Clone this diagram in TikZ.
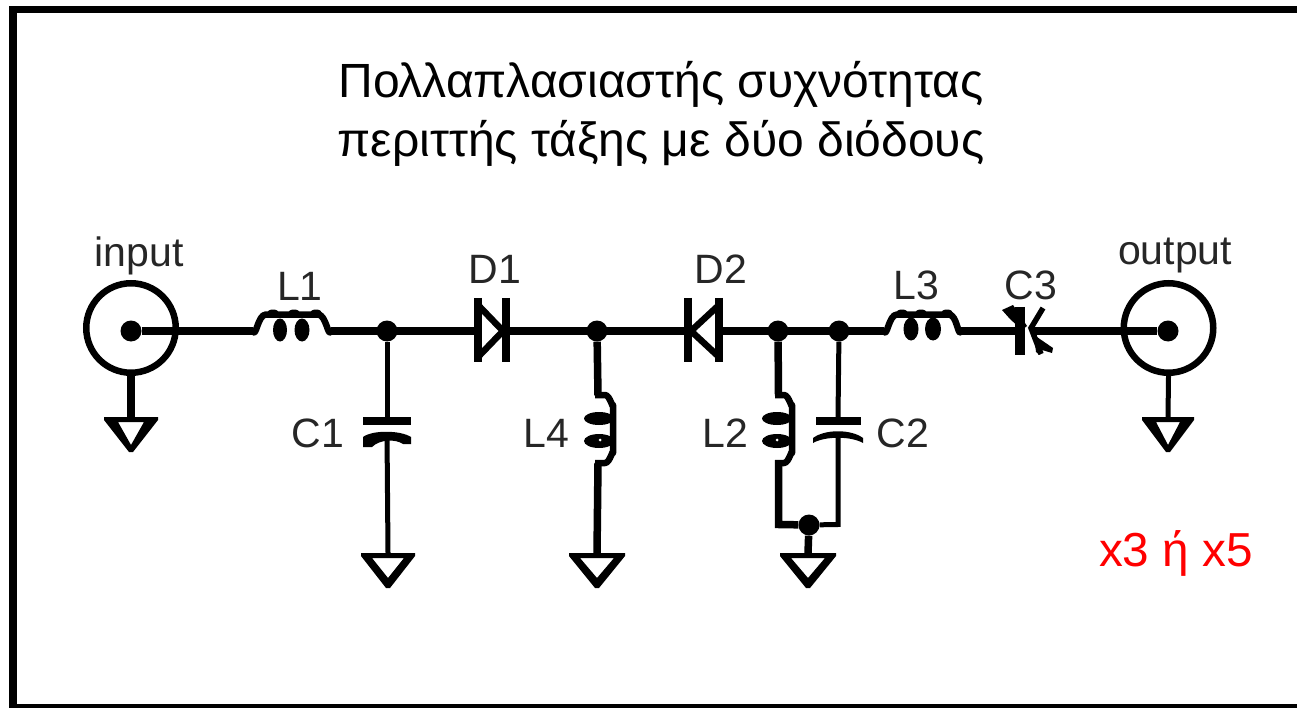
\documentclass[tikz,border=0pt]{standalone}
\usepackage{fontspec}
\setmainfont{Liberation Sans}
\begin{document}
\begin{tikzpicture}[x=1pt,y=-1pt,
  wire/.style={line width=7.5pt,line cap=butt},
  thin wire/.style={line width=5pt},
  coil/.style={line width=6.5pt,line join=round},
  plate/.style={line width=8pt},
  lbl/.style={font=\fontsize{41}{41}\selectfont,inner sep=0pt,text=black!85},
  title/.style={font=\fontsize{48}{48}\selectfont,inner sep=0pt},
  dot/.style={circle,fill=black,inner sep=0pt,minimum size=21pt},
  port/.style={circle,draw,line width=6.5pt,minimum size=89.5pt,inner sep=0pt}]
\useasboundingbox (0,0) rectangle (1297,708);
\fill[white] (0,0) rectangle (1297,708);
% frame
\fill[black] (9,6) rectangle (1297,13.5);
\fill[black] (9,6) rectangle (17,708);
\fill[black] (9,704) rectangle (1297,708);
% title
\node[title] (t1) at (661,84) {Πολλαπλασιαστής συχνότητας};
\node[title] (t2) at (661,143) {περιττής τάξης με δύο διόδους};
\node[font=\fontsize{47.7}{48}\selectfont,inner sep=0pt,text=red] (x35) at (1176,553) {x3 ή x5};
% ports
\node[port] (cin) at (131,328) {};
\node[port] (cout) at (1168.5,328) {};
% junctions
\node[dot] (in) at (131,331) {};
\node[dot] (out) at (1168,331) {};
\node[dot] (j1) at (387,331) {};
\node[dot] (j2) at (597,331) {};
\node[dot] (j3) at (778,331) {};
\node[dot] (j4) at (839,331) {};
\node[dot] (j5) at (809,525) {};
% grounds (outer triangle minus inner triangle; apex at bottom)
\foreach \n/\x/\y/\w/\t in {g0/131/417/27/14,g1/388/553/27/11,g2/597/553/28/11,g3/808/553/28/11,g4/1168/417/26/14}{
  \coordinate (\n) at (\x,\y);
  \fill[even odd rule] (\x-\w,\y) -- (\x+\w,\y) -- (\x+\w,\y+3) -- (\x+2,\y+35) -- (\x-2,\y+35) -- (\x-\w,\y+3) -- cycle
     (\x-\w+\t,\y+5) -- (\x+\w-\t,\y+5) -- (\x,\y+\t+14) -- cycle;
}
% top wire: anchors
\coordinate (l1a) at (253,331);
\coordinate (l1b) at (331,331);
\coordinate (d1a) at (477,331);
\coordinate (d1b) at (505,331);
\coordinate (d2a) at (688,331);
\coordinate (d2b) at (719,331);
\coordinate (l3a) at (884,331);
\coordinate (l3b) at (961,331);
\coordinate (c3a) at (1020,331);
\coordinate (c3b) at (1031,331);
\draw[wire] (in) -- (l1a);
\draw[wire] (l1b) -- (d1a);
\draw[wire] (d1b) -- (d2a);
\draw[wire] (d2b) -- (l3a);
\draw[wire] (l3b) -- (c3a);
\draw[wire] (c3b) -- (out);
% L1
\draw[coil] (l1a) to[out=-70,in=180] (266,314.5) -- (318,314.5) to[out=0,in=-110] (l1b);
\foreach \x in {273,294,316}{\fill (\x,313) ellipse (6pt and 3.5pt);}
\fill (280,330) ellipse (7pt and 11.5pt);
\fill (302,330) ellipse (7.5pt and 11.5pt);
% L3
\draw[coil] (l3a) to[out=-70,in=180] (897,314.5) -- (949,314.5) to[out=0,in=-110] (l3b);
\foreach \x in {902,921,947}{\fill (\x,313) ellipse (6pt and 3.5pt);}
\fill (911,329) ellipse (7.5pt and 11.5pt);
\fill (933,329) ellipse (8pt and 11.5pt);
% C1
\draw[thin wire] (j1) -- (387,417);
\fill (363,417) rectangle (411,425);
\fill (363,447) -- (363,437) .. controls (372,430) and (400,430) .. (411,437) -- (411,444) -- (403,444) .. controls (396,439) and (380,439) .. (372,447) -- cycle;
\draw[thin wire] (387,434) -- (g1);
% D1
\draw[plate,line cap=butt] (477.5,298) -- (477.5,362);
\draw[plate,line cap=butt] (505.5,298) -- (505.5,362);
\draw[line width=6.5pt,line join=miter] (478,305) -- (503,331) -- (478,357);
% D2
\draw[plate,line cap=butt] (688,298) -- (688,362);
\draw[plate,line cap=butt] (719,298) -- (719,362);
\draw[line width=6.5pt,line join=miter] (719,305) -- (691,331) -- (719,357);
% L4
\draw[wire] (j2) -- (598,395.5);
\draw[coil] (595,395) -- (605,395) to[out=0,in=-90] (613,405) -- (613,453) to[out=90,in=0] (605,463) -- (595,463);
\draw[wire] (598,463) -- (g2);
\fill (599,418.5) ellipse (15pt and 6.5pt);
\fill (599,441) ellipse (15pt and 7pt);
\fill[white] (600,440) circle (1.5pt);
% L2
\draw[wire] (j3) -- (778.5,395.5);
\draw[coil] (775,395) -- (784,395) to[out=0,in=-90] (792,405) -- (792,453) to[out=90,in=0] (784,463) -- (775,463);
\draw[wire,line join=miter] (778.5,460) -- (778.5,524.5) -- (j5);
\fill (777,418.5) ellipse (15pt and 6.5pt);
\fill (777,441) ellipse (15pt and 7pt);
\fill[white] (777,440) circle (1.5pt);
% C2
\draw[thin wire] (j4) -- (838,417);
\fill (816,417) rectangle (861,425);
\fill (813,443) -- (813,438) .. controls (825,429) and (851,429) .. (863,438) -- (863,443) .. controls (851,436) and (825,436) .. (813,443) -- cycle;
\draw[thin wire,line join=miter] (838,434) -- (838,524.5) -- (j5);
\draw[wire] (j5) -- (g3);
% C3
\draw[line width=10pt] (1020,307) -- (1020,355);
\draw[line width=5.5pt] (1043,308) -- (1031,328) -- (1041,354);
\fill (1002,310) -- (1013,305) -- (1027,326) -- (1022,330) -- (1010,319) -- cycle;
\fill (1034,335) -- (1053,348) -- (1052,353) -- (1042,350) -- (1040,355) -- (1036,352) -- cycle;
% ground links
\draw[line width=7.5pt] (cin.south) -- (g0);
\draw[line width=5pt] (cout.south) -- (g4);
% labels
\node[lbl] (linput) at (139,256) {input};
\node[lbl] (loutput) at (1175,256) {output};
\node[lbl] (ll1) at (300,286) {L1};
\node[lbl] (ld1) at (495,269) {D1};
\node[lbl] (ld2) at (721,269) {D2};
\node[lbl] (ll3) at (916,285) {L3};
\node[lbl] (lc3) at (1031,285) {C3};
\node[lbl] (lc1) at (318,433) {C1};
\node[lbl] (ll4) at (546,433) {L4};
\node[lbl] (ll2) at (725,433) {L2};
\node[lbl] (lc2) at (903,433) {C2};
\end{tikzpicture}
\end{document}
